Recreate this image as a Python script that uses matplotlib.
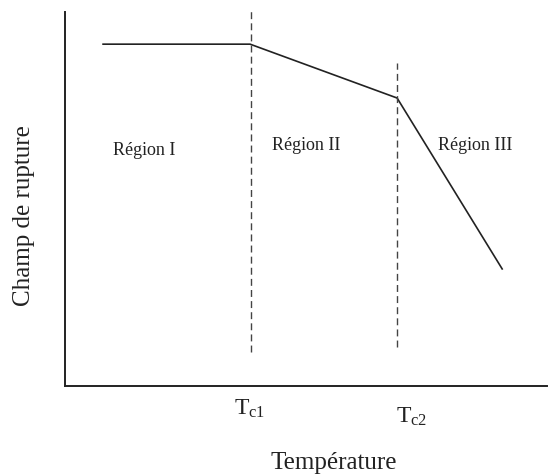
import matplotlib
matplotlib.use("Agg")
import matplotlib.pyplot as plt

plt.rcParams.update({
    "font.family": ["Liberation Serif", "DejaVu Serif"],
    "mathtext.fontset": "custom",
    "mathtext.rm": "Liberation Serif",
    "mathtext.it": "Liberation Serif:italic",
})

# ── Data (arbitrary units, schematic) ───────────────────────────────────────
temp = [7.9, 38.4, 68.9, 90.7]
field = [91.4, 91.4, 77.0, 31.3]
tc_positions = [38.6, 68.9]
tc_bottoms = [9.1, 10.4]
tc_tops = [101.1, 86.4]
tc_labels = [r"$\mathrm{T_{c1}}$", r"$\mathrm{T_{c2}}$"]
region_labels = ["Région I", "Région II", "Région III"]

W, H = 555, 475
fig = plt.figure(figsize=(W / 100, H / 100), dpi=100)
ax = fig.add_axes([65 / W, (H - 386) / H, (547 - 65) / W, (386 - 12) / H])

ax.plot(temp, field, color="#222222", lw=1.2, solid_joinstyle="miter")
for x, y0, y1 in zip(tc_positions, tc_bottoms, tc_tops):
    ax.plot([x, x], [y0, y1], color="#444444", lw=1.0, dashes=(5, 3), clip_on=False)

ax.set_xlim(0, 100)
ax.set_ylim(0, 100)
ax.set_xticks([])
ax.set_yticks([])
for side in ("top", "right"):
    ax.spines[side].set_visible(False)
for side in ("left", "bottom"):
    ax.spines[side].set_linewidth(1.4)
    ax.spines[side].set_color("#222222")

# region annotations
ax.text(16.4, 63.1, region_labels[0], ha="center", va="center", fontsize=13, color="#222222")
ax.text(50.0, 64.2, region_labels[1], ha="center", va="center", fontsize=13, color="#222222")
ax.text(85.1, 64.2, region_labels[2], ha="center", va="center", fontsize=13, color="#222222")

# critical temperature labels below the axis
ax.text(38.3, -7.8, tc_labels[0], ha="center", va="baseline", fontsize=17, color="#222222")
ax.text(72.0, -9.9, tc_labels[1], ha="center", va="baseline", fontsize=17, color="#222222")

fig.text(334 / W, 1 - 469 / H, "Température", ha="center", va="baseline", fontsize=18, color="#222222")
fig.text(24 / W, 1 - 216 / H, "Champ de rupture", ha="center", va="center", rotation=90,
         fontsize=18, color="#222222")

fig.savefig("out.png", dpi=100)
plt.close(fig)
